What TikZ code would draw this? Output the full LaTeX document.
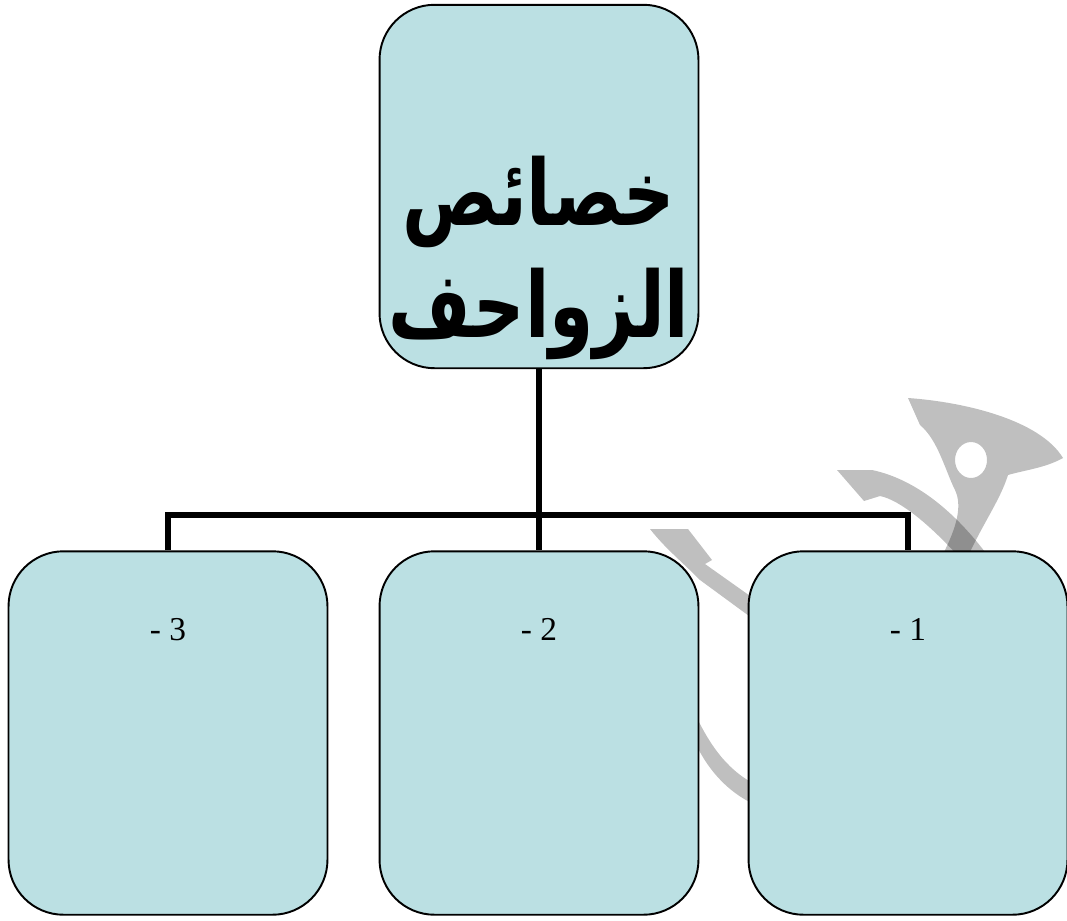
\documentclass[tikz,border=0pt]{standalone}
\usepackage{fontspec}
\setmainfont{Liberation Serif}
\newfontfamily\arabicfont[Script=Arabic, FakeStretch=0.78]{DejaVu Sans}
\TeXXeTstate=1
\usetikzlibrary{calc}
\definecolor{powder}{HTML}{BBE0E3}

\begin{document}
\begin{tikzpicture}[x=0.02cm, y=-0.02cm, line join=miter]
\useasboundingbox (0,0) rectangle (1067,920);

% faint watermark strokes behind the chart
\tikzstyle{stamp}=[fill=black, fill opacity=0.25, draw=none]
\fill[stamp, even odd rule] (908,398) .. controls (965,402) and (1040,420) .. (1063,458)
      .. controls (1045,468) and (1025,470) .. (1008,475)
      .. controls (1000,500) and (985,520) .. (968,556) -- (942,556)
      .. controls (958,525) and (962,505) .. (955,490)
      .. controls (945,470) and (938,440) .. (920,425) -- cycle
      (971,460) ellipse [x radius=16, y radius=18];
\fill[stamp] (837,470) -- (872,470) .. controls (910,478) and (950,505) .. (988,556)
      -- (958,556) .. controls (930,525) and (900,500) .. (880,496) -- (864,501) -- cycle;
\fill[stamp] (650,529) -- (688,529) -- (712,560) -- (705,564) -- (760,603)
      -- (760,624) -- (700,580) .. controls (680,560) and (665,548) .. (650,529) -- cycle;
\fill[stamp] (694,712) .. controls (712,750) and (730,772) .. (758,786)
      -- (758,806) .. controls (725,792) and (705,765) .. (694,740) -- cycle;

\tikzstyle{every node}=[draw=black, line width=1.1pt, fill=powder, rounded corners=1.1cm,
                        minimum width=6.38cm, minimum height=7.27cm, inner sep=0pt]
\draw (539,186.5) node (title) {}
      (168,733)   node (c3) {}
      (539,733)   node (c2) {}
      (908,733)   node (c1) {};

% tree lines
\draw[line width=3.4pt] (title) -- (c2);
\draw[line width=3.4pt] (c3.north) -- ++(0,-35) -| (c1.north);

\tikzstyle{every node}=[text=black, inner sep=0pt]
\draw (539,258) node[align=center, font=\arabicfont\bfseries\fontsize{52}{100}\selectfont] (head)
      {\beginR خصائص\endR\\[-36pt]\beginR الزواحف\endR};

\tikzstyle{every node}=[text=black, inner sep=0pt, font=\fontsize{19}{22}\selectfont]
\path (c3.north) ++(0,79) node (n3) {- 3};
\path (c2.north) ++(0,79) node (n2) {- 2};
\path (c1.north) ++(0,79) node (n1) {- 1};

\end{tikzpicture}
\end{document}
